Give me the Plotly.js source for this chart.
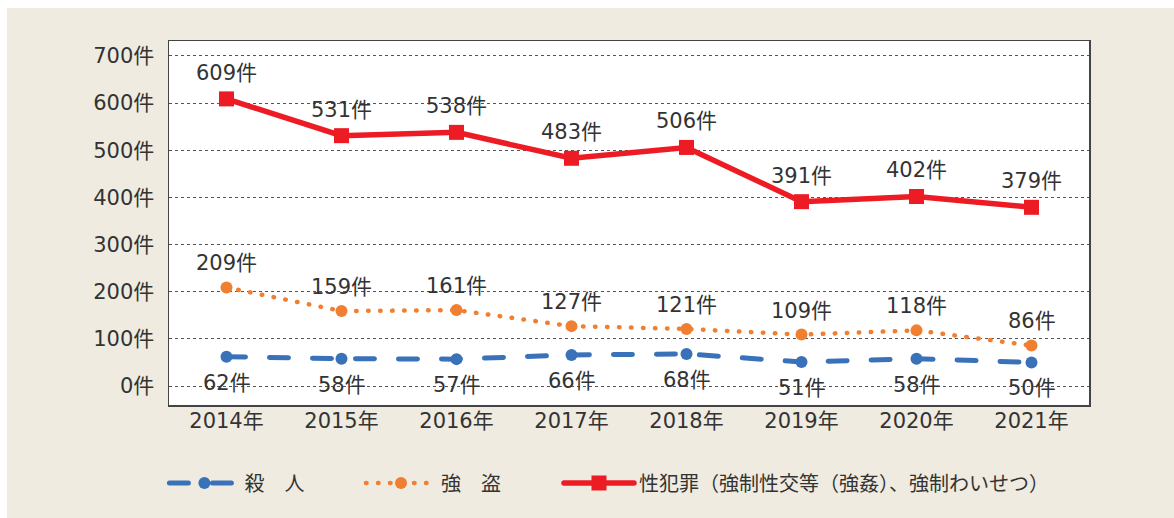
<!DOCTYPE html>
<html>
<head>
<meta charset="utf-8">
<script src="https://cdn.plot.ly/plotly-3.0.1.min.js"></script>
<style>
html, body { margin: 0; padding: 0; background: #ffffff; }
#chart { position: absolute; left: 7px; top: 8px; width: 1167px; height: 510px; }
.scatterlayer .js-line, .legendlines path { stroke-linecap: round; }
</style>
</head>
<body>
<div id="chart"></div>
<script>
const years = ['2014年','2015年','2016年','2017年','2018年','2019年','2020年','2021年'];
const murder = [62, 58, 57, 66, 68, 51, 58, 50];
const robbery = [209, 159, 161, 127, 121, 109, 118, 86];
const sexual = [609, 531, 538, 483, 506, 391, 402, 379];
const seriesNames = ['殺　人', '強　盗', '性犯罪（強制性交等（強姦）、強制わいせつ）'];
const yTickVals = [0, 100, 200, 300, 400, 500, 600, 700];
const yTickText = yTickVals.map(v => v + '件');

const FONT = '"DejaVu Sans", "Noto Sans CJK JP", sans-serif';
const CJK = '"Noto Sans CJK JP", sans-serif';
const TXT = '#333333';
const BLUE = '#3a72b9', ORANGE = '#f07f32', RED = '#ed1c24';

const traces = [
  {x: years, y: murder, name: seriesNames[0], mode: 'lines+markers', legend: 'legend',
   line: {color: BLUE, width: 5, dash: '19px,24px'},
   marker: {color: BLUE, size: 12, symbol: 'circle'}},
  {x: years, y: robbery, name: seriesNames[1], mode: 'lines+markers', legend: 'legend2',
   line: {color: ORANGE, width: 4.5, dash: '0.5px,11.5px'},
   marker: {color: ORANGE, size: 12, symbol: 'circle'}},
  {x: years, y: sexual, name: seriesNames[2], mode: 'lines+markers', legend: 'legend3',
   line: {color: RED, width: 5.5},
   marker: {color: RED, size: 15, symbol: 'square'}}
];

const annotations = [];
function addLabels(vals, shift) {
  vals.forEach((v, i) => annotations.push({
    x: years[i], y: v, text: v + '件', showarrow: false, yshift: shift,
    font: {family: FONT, size: 21, color: TXT}
  }));
}
addLabels(sexual, 26);
addLabels(robbery, 24);
addLabels(murder, -26);

function leg(x) {
  return {orientation: 'h', x: x, xanchor: 'left', y: -0.214, yanchor: 'middle',
    font: {family: CJK, size: 20, color: TXT}, itemwidth: 70,
    bgcolor: 'rgba(0,0,0,0)'};
}

const layout = {
  width: 1167, height: 510,
  paper_bgcolor: '#efebe1', plot_bgcolor: '#ffffff',
  margin: {l: 162, r: 85, t: 33, b: 113},
  font: {family: FONT, color: TXT},
  showlegend: true,
  legend: leg(-0.005),
  legend2: leg(0.2087),
  legend3: leg(0.4239),
  xaxis: {type: 'category', range: [-0.5, 7.5], showgrid: false, zeroline: false,
    showline: true, mirror: true, linecolor: '#444', linewidth: 1.5,
    ticks: '', tickfont: {family: FONT, size: 21, color: TXT}, ticklabelstandoff: -4},
  yaxis: {range: [-40.3, 731.8], tickvals: yTickVals, ticktext: yTickText,
    showgrid: true, gridcolor: '#555', griddash: 'dot', gridwidth: 1, zeroline: false,
    showline: true, mirror: true, linecolor: '#444', linewidth: 1.5,
    ticks: '', tickfont: {family: FONT, size: 21, color: TXT}, ticklabelstandoff: 9},
  annotations: annotations
};

Plotly.newPlot('chart', traces, layout, {displayModeBar: false, staticPlot: true});
</script>
</body>
</html>
